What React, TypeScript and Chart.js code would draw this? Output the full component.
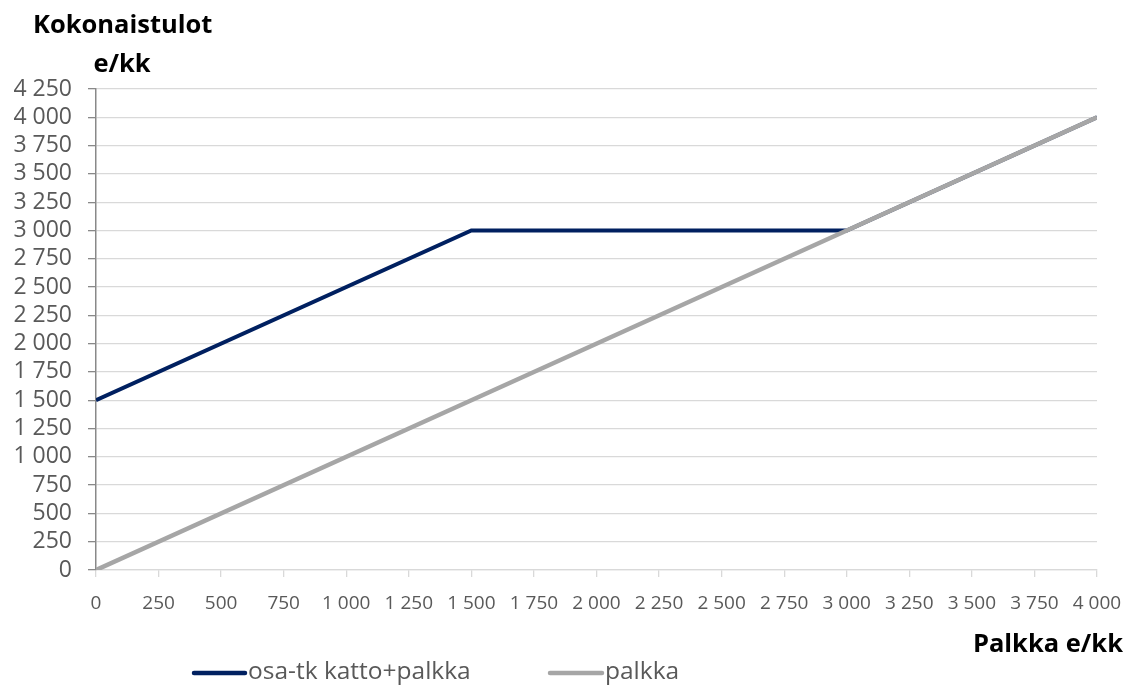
import React, { useEffect, useRef } from "react";
import { Chart, registerables } from "chart.js";

Chart.register(...registerables);

const palkkaX = [0, 1500, 3000, 4000];
const kokonaistulot = [1500, 3000, 3000, 4000];
const palkka = [0, 1500, 3000, 4000];

const yTitleLines = ["Kokonaistulot", "e/kk"];
const xTitle = "Palkka e/kk";
const seriesNames = ["osa-tk katto+palkka", "palkka"];

const BLUE = "#002060";
const GRAY = "#A6A6A6";
const FONT = "'Open Sans', sans-serif";

const fmt = (v: number) => String(Math.round(v)).replace(/\B(?=(\d{3})+(?!\d))/g, " ");

const decorPlugin = {
  id: "decor",
  afterDraw(chart: any) {
    const ctx = chart.ctx as CanvasRenderingContext2D;
    ctx.save();
    ctx.fillStyle = "#000";
    ctx.font = `bold 25.5px ${FONT}`;
    ctx.textBaseline = "alphabetic";
    ctx.textAlign = "left";
    ctx.fillText(yTitleLines[0], 33, 33);
    ctx.textAlign = "center";
    ctx.fillText(yTitleLines[1], 122, 72);
    ctx.textAlign = "right";
    ctx.fillText(xTitle, 1123, 652);

    // legend
    const items = [
      { name: seriesNames[0], color: BLUE, x0: 194, x1: 245 },
      { name: seriesNames[1], color: GRAY, x0: 550, x1: 602 },
    ];
    ctx.font = `24.5px ${FONT}`;
    ctx.textAlign = "left";
    items.forEach((it) => {
      ctx.strokeStyle = it.color;
      ctx.lineWidth = 4.5;
      ctx.lineCap = "round";
      ctx.beginPath();
      ctx.moveTo(it.x0, 673);
      ctx.lineTo(it.x1, 673);
      ctx.stroke();
      ctx.fillStyle = "#595959";
      ctx.fillText(it.name, it.x1 + 3, 679);
    });
    ctx.restore();
  },
};

export default function App() {
  const ref = useRef<HTMLCanvasElement | null>(null);
  useEffect(() => {
    if (!ref.current) return;
    const chart = new Chart(ref.current, {
      type: "line",
      data: {
        datasets: [
          {
            label: seriesNames[0],
            data: palkkaX.map((x, i) => ({ x, y: kokonaistulot[i] })),
            borderColor: BLUE,
            backgroundColor: BLUE,
            borderWidth: 4,
            pointRadius: 0,
            order: 2,
            tension: 0,
          },
          {
            label: seriesNames[1],
            data: palkkaX.map((x, i) => ({ x, y: palkka[i] })),
            borderColor: GRAY,
            backgroundColor: GRAY,
            borderWidth: 4.5,
            pointRadius: 0,
            order: 1,
            tension: 0,
          },
        ],
      },
      options: {
        responsive: false,
        animation: false,
        layout: { padding: { left: 0, top: 89, right: 44, bottom: 0 } },
        plugins: {
          legend: { display: false },
          tooltip: { enabled: false },
          title: { display: false },
        },
        scales: {
          x: {
            type: "linear",
            min: 0,
            max: 4000,
            afterFit: (s: any) => {
              s.height = 119;
            },
            ticks: {
              stepSize: 250,
              autoSkip: false,
              maxRotation: 0,
              minRotation: 0,
              padding: 15,
              color: "#595959",
              font: { family: FONT, size: 19 },
              callback: (v: any) => fmt(Number(v)),
            },
            grid: {
              drawOnChartArea: false,
              drawTicks: true,
              tickLength: 7,
              color: "#D9D9D9",
              tickColor: "#D9D9D9",
              lineWidth: 1.3,
            },
            border: { display: true, color: "#D9D9D9", width: 1.3 },
          },
          y: {
            type: "linear",
            min: 0,
            max: 4250,
            afterFit: (s: any) => {
              s.width = 96;
            },
            ticks: {
              stepSize: 250,
              autoSkip: false,
              padding: 16,
              color: "#595959",
              font: { family: FONT, size: 23 },
              callback: (v: any) => fmt(Number(v)),
            },
            grid: {
              drawOnChartArea: true,
              drawTicks: true,
              tickLength: 8,
              color: "#D9D9D9",
              tickColor: "#898989",
              lineWidth: 1.3,
            },
            border: { display: true, color: "#898989", width: 1.5 },
          },
        },
      },
      plugins: [decorPlugin],
    } as any);
    return () => chart.destroy();
  }, []);
  return (
    <div style={{ position: "absolute", left: 0, top: 0, width: 1141, height: 689, background: "#fff" }}>
      <canvas ref={ref} width={1141} height={689} style={{ display: "block" }} />
    </div>
  );
}
